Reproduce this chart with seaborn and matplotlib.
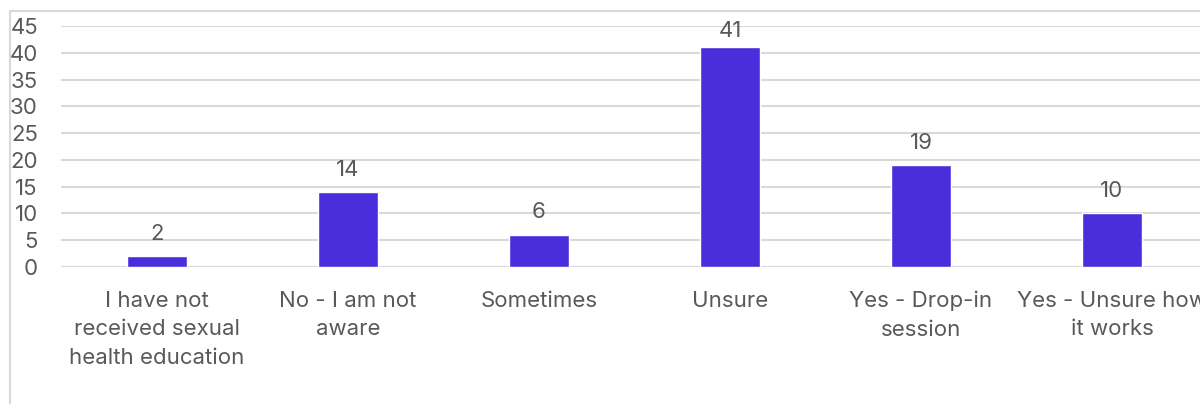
import matplotlib
matplotlib.use("Agg")
import matplotlib.pyplot as plt
import seaborn as sns
import pandas as pd
from matplotlib.patches import Rectangle

categories = [
    "I have not\nreceived sexual\nhealth education",
    "No - I am not\naware",
    "Sometimes",
    "Unsure",
    "Yes - Drop-in\nsession",
    "Yes - Unsure how\nit works",
]
counts = [2, 14, 6, 41, 19, 10]
y_ticks = [0, 5, 10, 15, 20, 25, 30, 35, 40, 45]

sns.set_style("white")
plt.rcParams["font.family"] = ["Inter", "DejaVu Sans"]

text_color = "#595959"
bar_color = "#4B2EDB"
grid_color = "#D9D9D9"
fs = 16
y_max = 45

df = pd.DataFrame({"category": categories, "count": counts})

fig = plt.figure(figsize=(12, 4.04), dpi=100)
ax = fig.add_axes([0.05125, 0.339, 0.955, 0.5965])

sns.barplot(data=df, x="category", y="count", color=bar_color, width=0.31,
            saturation=1, ax=ax, zorder=3)

ax.set_ylim(0, y_max)
ax.set_yticks(y_ticks)
ax.set_xlim(-0.5, len(categories) - 0.5)
ax.set_xlabel("")
ax.set_ylabel("")
for s in ax.spines.values():
    s.set_visible(False)
ax.yaxis.grid(True, color=grid_color, linewidth=1.5, zorder=0)
ax.set_axisbelow(True)
ax.tick_params(axis="y", length=0, pad=17, labelsize=fs, labelcolor=text_color)
ax.tick_params(axis="x", length=0, pad=17, labelsize=fs, labelcolor=text_color)
for lbl in ax.get_xticklabels():
    lbl.set_linespacing(1.55)

# value labels; the tallest bar's label is pulled closer so it stays inside the plot
container = ax.containers[0]
near_top = [v > y_max - 6 for v in counts]
ax.bar_label(container, labels=["" if t else str(v) for v, t in zip(counts, near_top)],
             padding=9, fontsize=fs, color=text_color)
ax.bar_label(container, labels=[str(v) if t else "" for v, t in zip(counts, near_top)],
             padding=5, fontsize=fs, color=text_color)

# outer frame of the chart area
fig.patches.append(Rectangle((10 / 1200, -0.05), 1.2, 1 - 11 / 404 + 0.05,
                             transform=fig.transFigure, fill=False,
                             edgecolor=grid_color, linewidth=1.5, zorder=0))

fig.savefig("out.png", dpi=100, facecolor="white")
